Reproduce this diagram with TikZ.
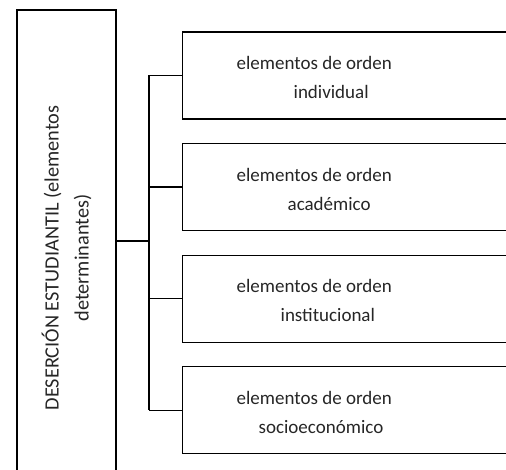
\documentclass[tikz,border=0pt]{standalone}
\usepackage{fontspec}
\setmainfont{Carlito}
\usepackage{tikz}
\usetikzlibrary{positioning}

\begin{document}
\begin{tikzpicture}[
				x = 1pt, y = 1pt,
				line width = 1.3pt, % line style
				node distance = 23.3pt, % distance between boxes
				font = \fontsize{19}{29}\selectfont
			]
			
			\tikzstyle{box}=[
			draw = black,
			rectangle,
			minimum width = 380pt,
			minimum height = 87pt,
			anchor = west
			]
			\tikzstyle{txt}=[
			align = left,
			inner sep = 0pt,
			anchor = west,
			text = black!85
			]
			
			\useasboundingbox (0,0) rectangle (506,470);
			\clip (0,0) rectangle (506,470);
			
			% rotated node: width is along the text
			\node[draw = black, minimum width = 496pt, minimum height = 99pt, text = black!85, align = center, rotate = 90, font = \fontsize{20.3}{30}\selectfont] (main) at (66.5,212) {DESERCIÓN ESTUDIANTIL (elementos\\determinantes)};
			
			\node[box] (b1) at (182,394.5) {};
			\node[box, below = of b1] (b2) {};
			\node[box, below = of b2] (b3) {};
			\node[box, below = of b3] (b4) {};
			
			\node[txt] (t1) at ([xshift=54pt, yshift=-2pt]b1.west) {elementos de orden\\\hspace*{57pt}individual};
			\node[txt] (t2) at ([xshift=54pt, yshift=-2pt]b2.west) {elementos de orden\\\hspace*{51pt}académico};
			\node[txt] (t3) at ([xshift=54pt, yshift=-2pt]b3.west) {elementos de orden\\\hspace*{44pt}institucional};
			\node[txt] (t4) at ([xshift=54pt, yshift=-2pt]b4.west) {elementos de orden\\\hspace*{22pt}socioeconómico};
			
			\coordinate (bus) at (149,229);
			
			\draw (main.south |- bus) -- (bus);
			\draw (bus |- b1.west) -- (bus |- b4.west);
			\foreach \b in {b1,b2,b3,b4}
				\draw (bus |- \b.west) -- (\b.west);
		\end{tikzpicture}
\end{document}
